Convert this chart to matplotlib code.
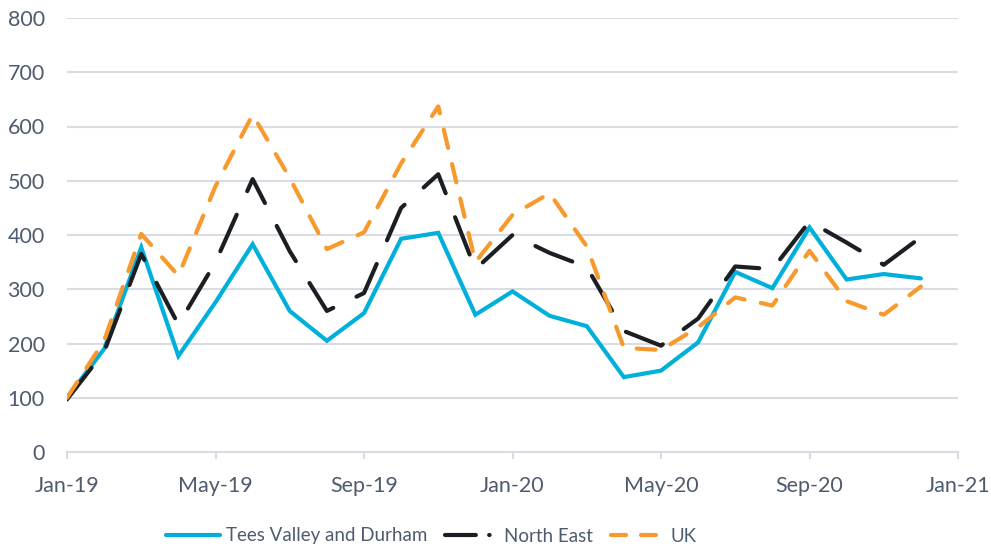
import matplotlib
matplotlib.use("Agg")
import matplotlib.pyplot as plt
from matplotlib.lines import Line2D

# monthly values, Jan-19 to Dec-20
months = ["Jan-19", "Feb-19", "Mar-19", "Apr-19", "May-19", "Jun-19",
          "Jul-19", "Aug-19", "Sep-19", "Oct-19", "Nov-19", "Dec-19",
          "Jan-20", "Feb-20", "Mar-20", "Apr-20", "May-20", "Jun-20",
          "Jul-20", "Aug-20", "Sep-20", "Oct-20", "Nov-20", "Dec-20"]
tees_valley = [100, 190, 377, 177, 276, 383, 260, 205, 256, 393, 404, 253,
               296, 251, 232, 138, 150, 202, 332, 302, 414, 318, 328, 320]
north_east = [97, 185, 365, 235, 350, 503, 370, 260, 293, 450, 512, 337,
              400, 367, 341, 223, 196, 246, 342, 337, 425, 386, 345, 396]
uk = [100, 205, 402, 325, 490, 622, 505, 374, 405, 532, 637, 350,
      437, 477, 379, 192, 188, 230, 285, 270, 371, 278, 253, 305]

tick_labels = ["Jan-19", "May-19", "Sep-19", "Jan-20", "May-20", "Sep-20", "Jan-21"]
tick_pos = [0, 4, 8, 12, 16, 20, 24]

txt_col = "#4E5B6E"
grid_col = "#D9DCE3"
blue = "#00B0DA"
black = "#1B1F23"
orange = "#F7992D"

plt.rcParams["font.family"] = ["Lato", "DejaVu Sans"]

fig = plt.figure(figsize=(9.91, 5.49), dpi=100)
ax = fig.add_axes([67 / 991, 1 - 452 / 549, 891 / 991, 434 / 549])

x = list(range(len(months)))
ax.plot(x, tees_valley, color=blue, lw=3, solid_capstyle="round",
        solid_joinstyle="miter", zorder=3)
ax.plot(x, north_east, color=black, lw=3, dashes=(9.6, 6.2),
        dash_capstyle="round", zorder=4)
ax.plot(x, uk, color=orange, lw=3, dashes=(4.5, 4),
        dash_capstyle="round", zorder=5)

ax.set_xlim(0, 24)
ax.set_ylim(0, 800)
ax.set_yticks(range(0, 801, 100))
ax.set_xticks(tick_pos)
ax.set_xticklabels(tick_labels)
ax.grid(axis="y", color=grid_col, lw=1.5)
ax.set_axisbelow(True)
for s in ["top", "right", "left"]:
    ax.spines[s].set_visible(False)
ax.spines["bottom"].set_color(grid_col)
ax.spines["bottom"].set_linewidth(1.5)
ax.tick_params(axis="y", length=0, pad=16, labelsize=15.5, labelcolor=txt_col)
ax.tick_params(axis="x", length=5, width=1.5, color=grid_col, pad=12,
               labelsize=15.5, labelcolor=txt_col)

# legend
handles = [
    Line2D([], [], color=blue, lw=3, solid_capstyle="round"),
    Line2D([], [], color=black, lw=3, dashes=(7.4, 3.2, 0.1, 3.2), dash_capstyle="round"),
    Line2D([], [], color=orange, lw=3, dashes=(3.6, 3.6), dash_capstyle="round"),
]
fig.legend(handles, ["Tees Valley and Durham", "North East", "UK"],
           loc="center left", bbox_to_anchor=(166 / 991, 1 - 536 / 549), ncol=3,
           frameon=False, labelcolor=txt_col, fontsize=13.5,
           borderaxespad=0, borderpad=0,
           handlelength=2.9, handletextpad=0.28, columnspacing=0.95)

fig.savefig("out.png", dpi=100)
